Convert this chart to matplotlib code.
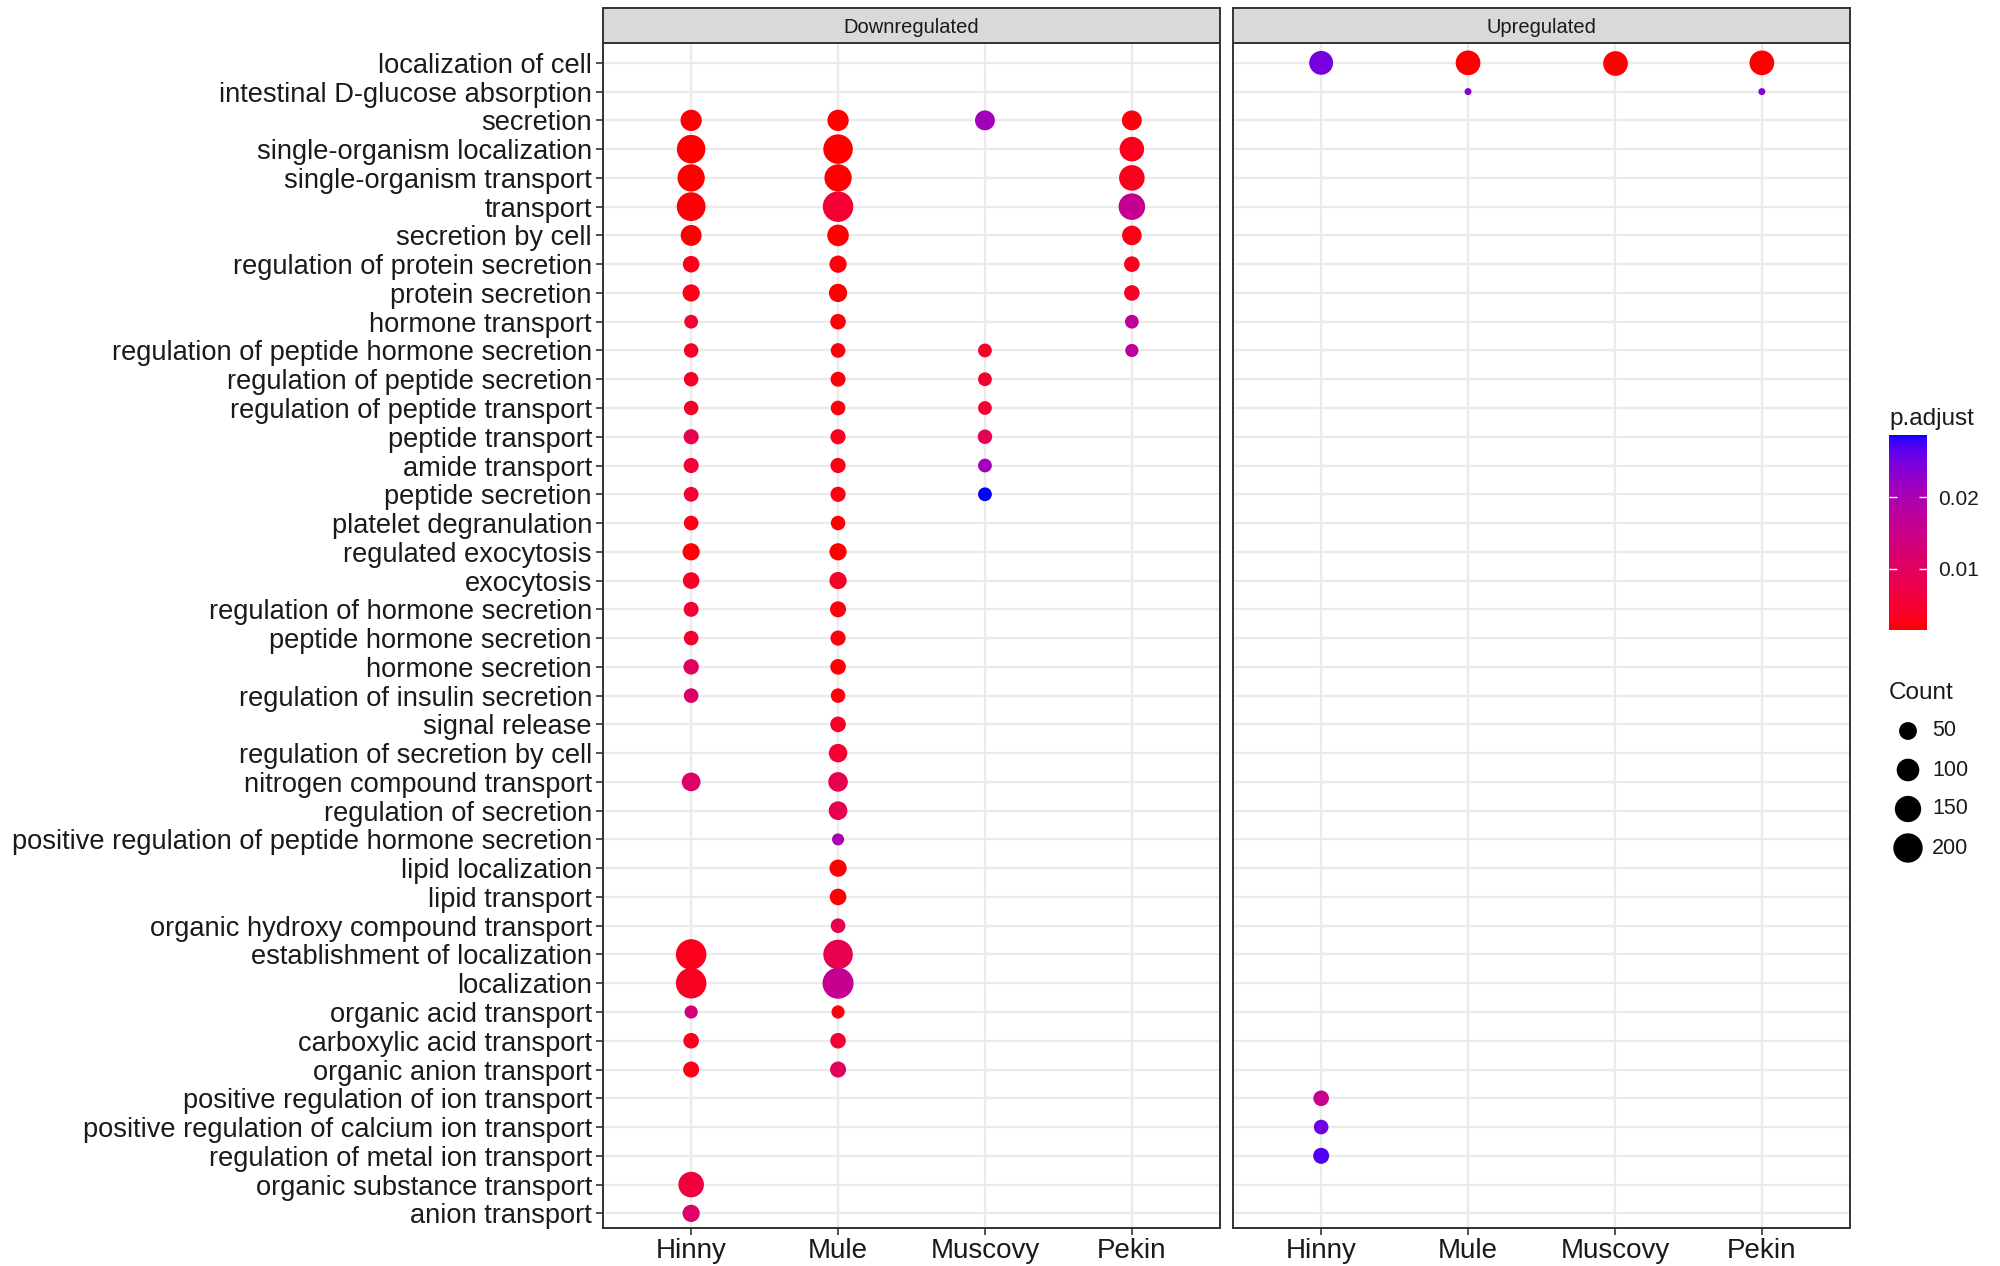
import numpy as np
import matplotlib
matplotlib.use("Agg")
import matplotlib.pyplot as plt
from matplotlib.colors import ListedColormap, Normalize
from matplotlib.cm import ScalarMappable

plt.rcParams["font.family"] = ["Liberation Sans", "DejaVu Sans"]

# -----------------------------
# Data
# -----------------------------
terms = [
    "localization of cell", "intestinal D-glucose absorption", "secretion",
    "single-organism localization", "single-organism transport", "transport",
    "secretion by cell", "regulation of protein secretion", "protein secretion",
    "hormone transport", "regulation of peptide hormone secretion",
    "regulation of peptide secretion", "regulation of peptide transport",
    "peptide transport", "amide transport", "peptide secretion",
    "platelet degranulation", "regulated exocytosis", "exocytosis",
    "regulation of hormone secretion", "peptide hormone secretion",
    "hormone secretion", "regulation of insulin secretion", "signal release",
    "regulation of secretion by cell", "nitrogen compound transport",
    "regulation of secretion", "positive regulation of peptide hormone secretion",
    "lipid localization", "lipid transport", "organic hydroxy compound transport",
    "establishment of localization", "localization", "organic acid transport",
    "carboxylic acid transport", "organic anion transport",
    "positive regulation of ion transport",
    "positive regulation of calcium ion transport",
    "regulation of metal ion transport", "organic substance transport",
    "anion transport",
]
samples = ["Hinny", "Mule", "Muscovy", "Pekin"]
facets = ["Downregulated", "Upregulated"]

# term: (Count, p.adjust)
down_hinny = {
    "secretion": (84, 0.0016), "single-organism localization": (186, 0.0015),
    "single-organism transport": (165, 0.0015), "transport": (190, 0.0018),
    "secretion by cell": (80, 0.0016), "regulation of protein secretion": (40, 0.0030),
    "protein secretion": (45, 0.0025), "hormone transport": (22, 0.0050),
    "regulation of peptide hormone secretion": (26, 0.0040),
    "regulation of peptide secretion": (26, 0.0040),
    "regulation of peptide transport": (26, 0.0040), "peptide transport": (30, 0.0085),
    "amide transport": (30, 0.0055), "peptide secretion": (28, 0.0050),
    "platelet degranulation": (27, 0.0022), "regulated exocytosis": (45, 0.0018),
    "exocytosis": (40, 0.0040), "regulation of hormone secretion": (29, 0.0050),
    "peptide hormone secretion": (27, 0.0045), "hormone secretion": (32, 0.0100),
    "regulation of insulin secretion": (27, 0.0110),
    "nitrogen compound transport": (58, 0.0110),
    "establishment of localization": (221, 0.0030), "localization": (221, 0.0035),
    "organic acid transport": (19, 0.0130), "carboxylic acid transport": (33, 0.0030),
    "organic anion transport": (36, 0.0025), "organic substance transport": (139, 0.0060),
    "anion transport": (45, 0.0110),
}
down_mule = {
    "secretion": (84, 0.0015), "single-organism localization": (203, 0.0015),
    "single-organism transport": (165, 0.0015), "transport": (221, 0.0050),
    "secretion by cell": (87, 0.0015), "regulation of protein secretion": (45, 0.0020),
    "protein secretion": (54, 0.0016), "hormone transport": (33, 0.0018),
    "regulation of peptide hormone secretion": (27, 0.0020),
    "regulation of peptide secretion": (29, 0.0018),
    "regulation of peptide transport": (27, 0.0020), "peptide transport": (30, 0.0030),
    "amide transport": (30, 0.0025), "peptide secretion": (30, 0.0022),
    "platelet degranulation": (26, 0.0016), "regulated exocytosis": (45, 0.0016),
    "exocytosis": (45, 0.0040), "regulation of hormone secretion": (36, 0.0020),
    "peptide hormone secretion": (30, 0.0020), "hormone secretion": (33, 0.0016),
    "regulation of insulin secretion": (26, 0.0020), "signal release": (33, 0.0040),
    "regulation of secretion by cell": (56, 0.0050),
    "nitrogen compound transport": (66, 0.0080), "regulation of secretion": (58, 0.0080),
    "positive regulation of peptide hormone secretion": (14, 0.0200),
    "lipid localization": (45, 0.0015), "lipid transport": (40, 0.0016),
    "organic hydroxy compound transport": (27, 0.0080),
    "establishment of localization": (203, 0.0080), "localization": (230, 0.0160),
    "organic acid transport": (19, 0.0020), "carboxylic acid transport": (33, 0.0050),
    "organic anion transport": (36, 0.0100),
}
down_muscovy = {
    "secretion": (69, 0.0210), "regulation of peptide hormone secretion": (22, 0.0040),
    "regulation of peptide secretion": (22, 0.0045),
    "regulation of peptide transport": (22, 0.0050), "peptide transport": (26, 0.0090),
    "amide transport": (22, 0.0210), "peptide secretion": (22, 0.0287),
}
down_pekin = {
    "secretion": (69, 0.0020), "single-organism localization": (125, 0.0030),
    "single-organism transport": (139, 0.0030), "transport": (154, 0.0160),
    "secretion by cell": (66, 0.0025), "regulation of protein secretion": (33, 0.0030),
    "protein secretion": (33, 0.0040), "hormone transport": (22, 0.0170),
    "regulation of peptide hormone secretion": (19, 0.0170),
}
up_hinny = {
    "localization of cell": (116, 0.0250),
    "positive regulation of ion transport": (33, 0.0155),
    "positive regulation of calcium ion transport": (27, 0.0255),
    "regulation of metal ion transport": (36, 0.0270),
}
up_mule = {"localization of cell": (127, 0.0014), "intestinal D-glucose absorption": (4, 0.0235)}
up_muscovy = {"localization of cell": (127, 0.0014)}
up_pekin = {"localization of cell": (127, 0.0014), "intestinal D-glucose absorption": (4, 0.0235)}

panel_data = {
    "Downregulated": [down_hinny, down_mule, down_muscovy, down_pekin],
    "Upregulated": [up_hinny, up_mule, up_muscovy, up_pekin],
}
count_breaks = [50, 100, 150, 200]
padj_breaks = [0.01, 0.02]

# -----------------------------
# Scales (ggplot-like)
# -----------------------------
all_counts = [v[0] for g in panel_data.values() for d in g for v in d.values()]
all_padj = [v[1] for g in panel_data.values() for d in g for v in d.values()]
cmin, cmax = min(all_counts), max(all_counts)


def dot_size(c):
    # diameter in px (area-style scale), converted to scatter s (pt^2)
    d = 7 + 24 * np.sqrt((np.asarray(c, float) - cmin) / (cmax - cmin))
    return (d * 0.72) ** 2


# red -> blue gradient interpolated in CIELAB like ggplot
M = np.array([[0.4124, 0.3576, 0.1805], [0.2126, 0.7152, 0.0722], [0.0193, 0.1192, 0.9505]])
WP = np.array([0.95047, 1.0, 1.08883])


def to_lab(rgb):
    rgb = np.asarray(rgb, float)
    lin = np.where(rgb <= 0.04045, rgb / 12.92, ((rgb + 0.055) / 1.055) ** 2.4)
    t = (M @ lin) / WP
    f = np.where(t > (6 / 29) ** 3, np.cbrt(t), t / (3 * (6 / 29) ** 2) + 4 / 29)
    return np.array([116 * f[1] - 16, 500 * (f[0] - f[1]), 200 * (f[1] - f[2])])


def from_lab(lab):
    fy = (lab[0] + 16) / 116
    f = np.array([fy + lab[1] / 500, fy, fy - lab[2] / 200])
    t = np.where(f > 6 / 29, f ** 3, 3 * (6 / 29) ** 2 * (f - 4 / 29))
    lin = np.linalg.inv(M) @ (t * WP)
    lin = np.clip(lin, 0, None)
    rgb = np.where(lin <= 0.0031308, 12.92 * lin, 1.055 * lin ** (1 / 2.4) - 0.055)
    return np.clip(rgb, 0, 1)


lab_lo, lab_hi = to_lab([1, 0, 0]), to_lab([0, 0, 1])
cmap = ListedColormap([from_lab(lab_lo + (lab_hi - lab_lo) * t) for t in np.linspace(0, 1, 256)])
norm = Normalize(vmin=min(all_padj), vmax=max(all_padj))

# -----------------------------
# Figure layout (pixel based)
# -----------------------------
W, H = 2000, 1266
fig = plt.figure(figsize=(W / 100, H / 100), dpi=100)


def rect(x0, y0, x1, y1):
    return [x0 / W, 1 - y1 / H, (x1 - x0) / W, (y1 - y0) / H]


panel_x = [603, 1233]
panel_w = 617
ypos = np.arange(len(terms))

for k, facet in enumerate(facets):
    x0 = panel_x[k]
    ax = fig.add_axes(rect(x0, 43, x0 + panel_w, 1228))
    ax.set_xlim(0.4, 4.6)
    ax.set_ylim(len(terms) - 0.49, -0.69)
    ax.set_axisbelow(True)
    ax.grid(color="#EBEBEB", linewidth=1.7)
    for sp in ax.spines.values():
        sp.set_color("#333333")
        sp.set_linewidth(1.4)

    for j, d in enumerate(panel_data[facet]):
        names = list(d.keys())
        ys = [terms.index(n) for n in names]
        cnt = [d[n][0] for n in names]
        pv = [d[n][1] for n in names]
        ax.scatter([j + 1] * len(names), ys, s=dot_size(cnt), c=pv, cmap=cmap,
                   norm=norm, linewidths=0, zorder=3)

    ax.set_xticks(range(1, 5))
    ax.set_xticklabels(samples)
    ax.tick_params(axis="x", length=5, width=1.2, color="#333333",
                   labelsize=20, labelcolor="#1A1A1A", pad=2)
    ax.set_yticks(ypos)
    if k == 0:
        ax.set_yticklabels(terms)
        ax.tick_params(axis="y", length=5, width=1.2, color="#333333",
                       labelsize=19.6, labelcolor="#1A1A1A", pad=3)
    else:
        ax.set_yticklabels([])
        ax.tick_params(axis="y", length=0)

    # facet strip
    sax = fig.add_axes(rect(x0, 8, x0 + panel_w, 43))
    sax.set_facecolor("#D9D9D9")
    sax.set_xticks([])
    sax.set_yticks([])
    for sp in sax.spines.values():
        sp.set_color("#333333")
        sp.set_linewidth(1.4)
    sax.text(0.5, 0.45, facet, ha="center", va="center", fontsize=14.5,
             color="#1A1A1A", transform=sax.transAxes)

# -----------------------------
# Legends
# -----------------------------
cax = fig.add_axes(rect(1889, 435, 1927, 630))
cb = fig.colorbar(ScalarMappable(norm=norm, cmap=cmap), cax=cax)
cb.outline.set_visible(False)
cb.set_ticks(padj_breaks)
cb.ax.tick_params(length=0, labelsize=15, pad=8, labelcolor="#1A1A1A")
for v in padj_breaks:
    cax.hlines(v, 0, 0.2, colors="white", linewidth=1, transform=cax.get_yaxis_transform())
    cax.hlines(v, 0.8, 1, colors="white", linewidth=1, transform=cax.get_yaxis_transform())

lax = fig.add_axes([0, 0, 1, 1])
lax.set_xlim(0, W)
lax.set_ylim(H, 0)
lax.axis("off")
lax.text(1889, 419, "p.adjust", fontsize=17.5, va="center", ha="left", color="#1A1A1A")
lax.text(1889, 693, "Count", fontsize=17.5, va="center", ha="left", color="#1A1A1A")
leg_y = [731, 770, 809, 848]
lax.scatter([1908] * len(count_breaks), leg_y, s=dot_size(count_breaks), color="black",
            linewidths=0)
for yy, lab in zip(leg_y, count_breaks):
    lax.text(1932, yy, str(lab), fontsize=15.5, va="center", ha="left", color="#1A1A1A")

fig.savefig("out.png", dpi=100)
